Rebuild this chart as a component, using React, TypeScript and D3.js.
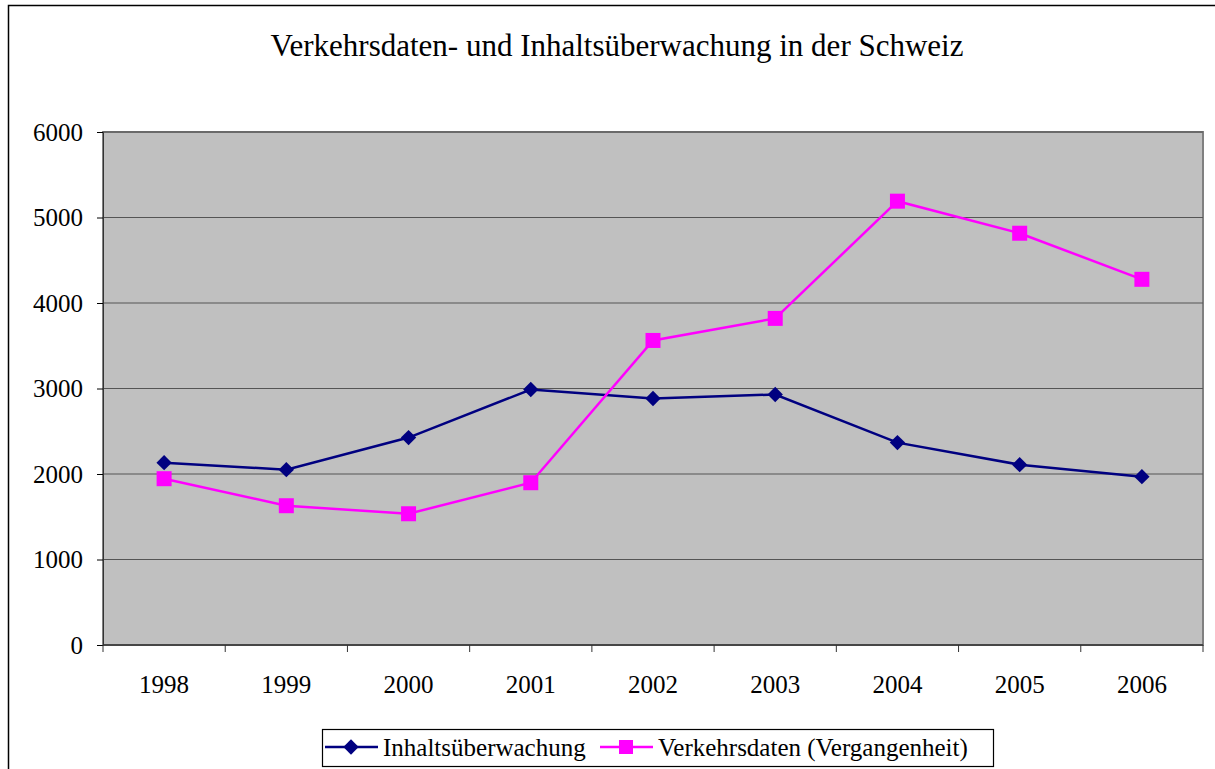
import React, { useEffect, useRef } from "react";
import * as d3 from "d3";

// chart data
const years = ["1998", "1999", "2000", "2001", "2002", "2003", "2004", "2005", "2006"];
const inhalt = [2133, 2051, 2426, 2988, 2883, 2930, 2367, 2109, 1969];
const verkehr = [1945, 1629, 1535, 1898, 3562, 3820, 5191, 4816, 4277];
const yTicks = [0, 1000, 2000, 3000, 4000, 5000, 6000];

const W = 1215, H = 769;
const font = "'Liberation Serif', 'Times New Roman', serif";

function App() {
  const ref = useRef<SVGSVGElement>(null);

  useEffect(() => {
    const svg = d3.select(ref.current);
    svg.selectAll("*").remove();

    // outer chart frame
    svg.append("rect").attr("x", 8.5).attr("y", 5.5).attr("width", 1220).attr("height", 800)
      .attr("fill", "white").attr("stroke", "black").attr("stroke-width", 1.5);

    svg.append("text").attr("x", 617).attr("y", 56).attr("text-anchor", "middle")
      .style("font-family", font).style("font-size", "31px")
      .text("Verkehrsdaten- und Inhaltsüberwachung in der Schweiz");

    const margin = { left: 103, top: 132, right: 1203, bottom: 645 };
    const x = d3.scaleBand().domain(years).range([margin.left, margin.right]);
    const y = d3.scaleLinear().domain([0, 6000]).range([margin.bottom, margin.top]);

    const g = svg.append("g");
    g.append("rect").attr("x", margin.left).attr("y", margin.top)
      .attr("width", margin.right - margin.left).attr("height", margin.bottom - margin.top)
      .attr("fill", "#c0c0c0").attr("stroke", "#808080").attr("stroke-width", 2);

    // gridlines
    g.selectAll(".grid").data(yTicks.filter(t => t > 0)).join("line")
      .attr("x1", margin.left).attr("x2", margin.right)
      .attr("y1", d => y(d)).attr("y2", d => y(d))
      .attr("stroke", "#555").attr("stroke-width", 1.2);

    // y axis
    const yAxis = g.append("g").attr("transform", `translate(${margin.left},0)`)
      .call(d3.axisLeft(y).tickValues(yTicks).tickSize(6).tickPadding(14).tickFormat(d3.format("d")));
    yAxis.select(".domain").attr("stroke", "#333");
    yAxis.selectAll("text").style("font-family", font).style("font-size", "25px").attr("fill", "black");

    // x axis with ticks at band boundaries
    const xAxis = g.append("g").attr("transform", `translate(0,${margin.bottom})`);
    xAxis.append("line").attr("x1", margin.left).attr("x2", margin.right)
      .attr("stroke", "#333").attr("stroke-width", 1.5);
    const bounds = years.map(d => x(d)!).concat([margin.right]);
    xAxis.selectAll(".tk").data(bounds).join("line")
      .attr("x1", d => d).attr("x2", d => d).attr("y1", 0).attr("y2", 7)
      .attr("stroke", "#333");
    xAxis.selectAll("text").data(years).join("text")
      .attr("x", d => x(d)! + x.bandwidth() / 2).attr("y", 48)
      .attr("text-anchor", "middle").style("font-family", font).style("font-size", "25px")
      .text(d => d);

    const cx = (i: number) => x(years[i])! + x.bandwidth() / 2;
    const line = d3.line<number>().x((d, i) => cx(i)).y(d => y(d));

    g.append("path").datum(inhalt).attr("d", line).attr("fill", "none")
      .attr("stroke", "#000080").attr("stroke-width", 2.5);
    g.append("path").datum(verkehr).attr("d", line).attr("fill", "none")
      .attr("stroke", "#ff00ff").attr("stroke-width", 2.5);

    const diamond = d3.symbol().type(d3.symbolDiamond2).size(150);
    g.selectAll(".dia").data(inhalt).join("path")
      .attr("d", diamond).attr("transform", (d, i) => `translate(${cx(i)},${y(d)})`)
      .attr("fill", "#000080");
    g.selectAll(".sq").data(verkehr).join("rect")
      .attr("x", (d, i) => cx(i) - 7.5).attr("y", d => y(d) - 7.5)
      .attr("width", 15).attr("height", 15).attr("fill", "#ff00ff");

    // legend
    const lg = svg.append("g");
    lg.append("rect").attr("x", 322.5).attr("y", 729.5).attr("width", 671).attr("height", 37)
      .attr("fill", "white").attr("stroke", "black").attr("stroke-width", 1.2);
    const items = [
      { name: "Inhaltsüberwachung", color: "#000080", x0: 325, type: "d" },
      { name: "Verkehrsdaten (Vergangenheit)", color: "#ff00ff", x0: 600, type: "s" },
    ];
    items.forEach(it => {
      lg.append("line").attr("x1", it.x0).attr("x2", it.x0 + 53).attr("y1", 747).attr("y2", 747)
        .attr("stroke", it.color).attr("stroke-width", 2.5);
      if (it.type === "d") {
        lg.append("path").attr("d", diamond).attr("transform", `translate(${it.x0 + 26},747)`).attr("fill", it.color);
      } else {
        lg.append("rect").attr("x", it.x0 + 19).attr("y", 740).attr("width", 14).attr("height", 14).attr("fill", it.color);
      }
      lg.append("text").attr("x", it.x0 + 58).attr("y", 756).style("font-family", font).style("font-size", "25px")
        .text(it.name);
    });
  }, []);

  return (
    <svg ref={ref} width={W} height={H}
      style={{ position: "absolute", left: 0, top: 0, background: "white" }} />
  );
}

export default App;
